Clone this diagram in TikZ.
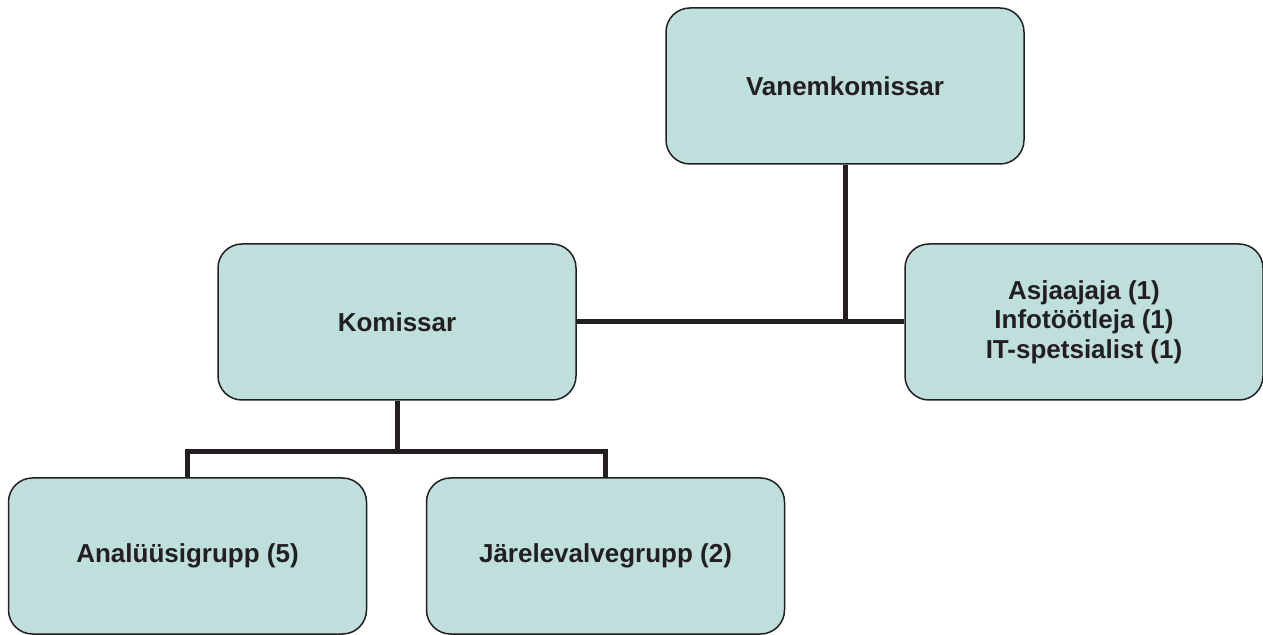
\documentclass[tikz,border=0pt]{standalone}
\usepackage{fontspec}
\setmainfont{Liberation Sans}
\definecolor{boxfill}{RGB}{191,223,221}
\definecolor{ink}{RGB}{35,31,32}
\tikzset{
  orgbox/.style={draw=ink, line width=0.75pt, fill=boxfill, rounded corners=12pt,
    minimum width=179pt, minimum height=78pt, inner sep=0pt, align=center,
    font=\fontsize{13pt}{14.75pt}\selectfont\bfseries, text=ink},
  link/.style={draw=ink, line width=2.5pt}
}
\begin{document}
\begin{tikzpicture}[x=0.5pt,y=-0.5pt]
\useasboundingbox (0,0) rectangle (1263,635);
\node[orgbox] (vk) at (845,86) {Vanemkomissar};
\node[orgbox] (kom) at (397,322) {Komissar};
\node[orgbox] (asj) at (1084,322) {Asjaajaja (1)\\Infotöötleja (1)\\IT-spetsialist (1)};
\node[orgbox] (ana) at (187.5,556) {Analüüsigrupp (5)};
\node[orgbox] (jar) at (605.5,556) {Järelevalvegrupp (2)};
\coordinate (j1) at (vk.south |- kom.east);
\coordinate (j2) at (397,452);
\draw[link] (vk.south) -- (j1);
\draw[link] (kom.east) -- (asj.west);
\draw[link] (kom.south) -- (j2);
\draw[link, line join=miter] (ana.north) -- (ana.north |- j2) -- (jar.north |- j2) -- (jar.north);
\end{tikzpicture}
\end{document}
